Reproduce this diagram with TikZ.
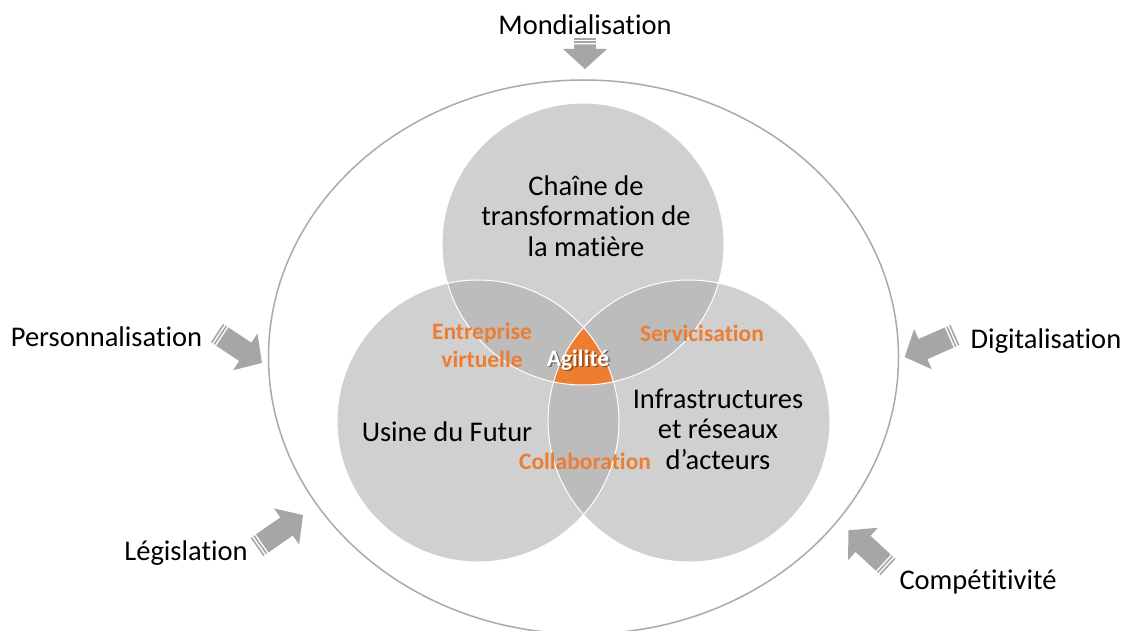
\documentclass[tikz,border=0pt]{standalone}
\usepackage{fontspec}
\setmainfont[Ligatures=NoCommon]{Carlito}
\usetikzlibrary{shapes.geometric}
\definecolor{vgray}{RGB}{173,173,173}
\definecolor{agray}{RGB}{166,166,166}
\definecolor{eorange}{RGB}{237,125,49}
\definecolor{egray}{RGB}{170,170,170}
\tikzset{
  lbl/.style={font=\fontsize{28.5}{30.5}\selectfont, align=center, inner sep=0pt, text=black},
  olbl/.style={font=\fontsize{23.5}{28}\selectfont\bfseries, text=eorange, align=center, inner sep=0pt},
  vfill/.style={fill=vgray, fill opacity=0.57},
  vborder/.style={draw=white, line width=1pt},
  pics/sarrow/.style={code={
    \fill[agray] (0,-11) rectangle (1.6,11);
    \fill[agray] (3.2,-11) rectangle (4.8,11);
    \fill[agray] (6.4,-11) -- ({#1-20},-11) -- ({#1-20},-22) -- (#1,0) -- ({#1-20},22) -- ({#1-20},11) -- (6.4,11) -- cycle;
  }}
}
\begin{document}
\begin{tikzpicture}[x=1pt,y=-1pt]
\useasboundingbox (0,0) rectangle (1125,631);
\clip (0,0) rectangle (1125,631);
\fill[white] (0,0) rectangle (1125,631);
% outer ellipse
\node[ellipse, draw=egray, line width=1.5pt, minimum width=630pt, minimum height=554pt, inner sep=0pt] (outer) at (583.5,357) {};
% venn centres
\coordinate (ctop) at (583,244);
\coordinate (cleft) at (478,421);
\coordinate (cright) at (689,421);
\fill[vfill] (ctop) circle [radius=141];
\fill[vfill] (cleft) circle [radius=141];
\fill[vfill] (cright) circle [radius=141];
\begin{scope}
  \clip (ctop) circle [radius=141];
  \clip (cleft) circle [radius=141];
  \fill[eorange] (cright) circle [radius=141];
\end{scope}
\draw[vborder] (ctop) circle [radius=141];
\draw[vborder] (cleft) circle [radius=141];
\draw[vborder] (cright) circle [radius=141];
% texts in circles
\node[lbl] (chaine) at (586,216) {Chaîne de\\transformation de\\la matière};
\node[lbl] (usine) at (447,432) {Usine du Futur};
\node[lbl] (infra) at (718,429) {Infrastructures\\et réseaux\\d’acteurs};
\node[olbl] (entre) at (482,345) {Entreprise\\virtuelle};
\node[olbl] (servi) at (702,333) {Servicisation};
\node[olbl] (colla) at (585,461) {Collaboration};
\node[olbl, text=black, opacity=0.45] (agilsh) at (579.5,361.5) {Agilité};
\node[olbl, text=white] (agil) at (578,360) {Agilité};
% outer labels
\node[lbl] (mond) at (585,25) {Mondialisation};
\node[lbl] (perso) at (106.5,337) {Personnalisation};
\node[lbl] (digit) at (1046,341) {Digitalisation};
\node[lbl] (legis) at (186,553) {Législation};
\node[lbl] (compe) at (978,582) {Compétitivité};
% arrows
\pic[rotate=-90] at (585,38) {sarrow=31};
\pic[rotate=-33.7] at (217,333) {sarrow=54};
\pic[rotate=34.8] at (257,547) {sarrow=56};
\pic[rotate=137.2] at (888,567) {sarrow=54};
\pic[rotate=-156.3] at (955,335) {sarrow=55};
\end{tikzpicture}
\end{document}
